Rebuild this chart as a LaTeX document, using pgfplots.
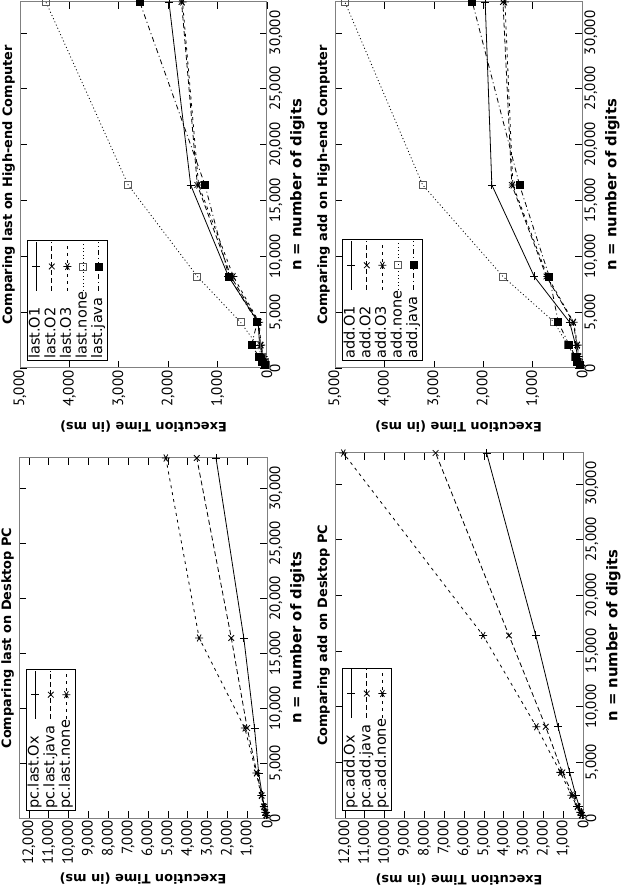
\documentclass[border=0pt]{standalone}
\usepackage{fontspec}
\setmainfont{PT Sans}
\newfontfamily\djf{DejaVu Sans}
\usepackage{pgfplots}
\pgfplotsset{compat=1.18}

% data: n, then one column per build
\pgfplotstableread{
n     Ox    java  none
256   30    35    40
512   70    80    85
1024  130   150   160
2048  240   270   290
4096  420   510   540
8192  630   1000  1120
16384 1170  1800  3420
32768 2570  3540  5100
}\pclast
\pgfplotstableread{
n     Ox    java  none
256   50    60    70
512   100   130   150
1024  190   270   300
2048  367   500   585
4096  670   1040  1140
8192  1260  1880  2350
16384 2380  3730  5035
32768 4860  7430  12080
}\pcadd
\pgfplotstableread{
n     O1    O2    O3    none  java
256   20    20    20    25    50
512   40    40    40    50    97
1024  80    70    70    100   165
2048  150   130   120   200   313
4096  180   170   160   535   198
8192  780   730   680   1410  771
16384 1545  1410  1385  2810  1256
32768 1985  1730  1710  4475  2576
}\hilast
\pgfplotstableread{
n     O1    O2    O3    none  java
256   30    20    20    40    50
512   50    40    40    80    100
1024  90    70    70    150   130
2048  130   100   90    290   260
4096  250   180   170   560   480
8192  967   720   700   1600  663
16384 1825  1420  1400  3225  1265
32768 1960  1600  1560  4800  2220
}\hiadd

\newcommand\txt{\fontsize{15}{15}\selectfont}
\newcommand\hdr{\djf\fontsize{12.9}{13}\selectfont\bfseries}

\pgfplotsset{
  every axis title shift=0pt,
  gp/.style={
    scale only axis, clip=false,
    anchor=north west,
    xmin=0, xmax=32768,
    ymin=0,
    xtick={0,5000,...,30000},
    scaled ticks=false,
    /pgf/number format/1000 sep={,},
    /pgf/number format/assume math mode=true,
    tick align=inside,
    major tick length=7pt,
    tick style={black, line width=0.6pt},
    axis line style={gray, line width=1pt},
    font=\txt,
    tick label style={font=\txt},
    xticklabel style={yshift=1pt},
    yticklabel style={xshift=1pt},
    title style={font=\hdr, at={(0.5,1)}, anchor=south, inner sep=0pt, yshift=5pt},
    xlabel={n = number of digits},
    xlabel style={font=\djf\fontsize{14.8}{15}\selectfont\bfseries,
      at={(axis description cs:0.5,0)}, anchor=north, inner sep=0pt, yshift=-23pt},
    ylabel={Execution Time (in ms)},
    ylabel style={font=\hdr, anchor=south, inner sep=0pt},
    legend cell align=left,
    legend plot pos=right,
    legend style={at={(0,1)}, anchor=north west, xshift=7pt, yshift=-7pt,
      draw=black, line width=0.8pt, inner sep=1pt, row sep=0pt,
      font=\djf\fontsize{14.5}{15}\selectfont,
      nodes={text height=10.5pt, text depth=3.5pt, inner sep=0.8pt}},
    legend image code/.code={\draw[mark repeat=2,mark phase=2,#1]
      plot coordinates {(0cm,0cm) (0.85cm,0cm) (1.7cm,0cm)};},
  },
  desk/.style={gp, ymax=12500, ytick={0,1000,...,12000},
    ylabel style={at={(axis description cs:-0.153,0.5)}}},
  high/.style={gp, ymax=5000, ytick={0,1000,...,5000},
    ylabel style={at={(axis description cs:-0.145,0.5)}}},
  s1/.style={black, line width=0.8pt, mark=+, mark size=4pt, mark options={solid}},
  s2/.style={black, line width=0.8pt, dash pattern=on 5pt off 3pt, mark=x, mark size=4pt, mark options={solid}},
  s3/.style={black, line width=0.8pt, dash pattern=on 3pt off 4pt, mark=asterisk, mark size=4pt, mark options={solid}},
  s4/.style={black, line width=0.8pt, dash pattern=on 1pt off 2.5pt, mark=square, mark size=3.5pt, mark options={solid, gray!70!black}},
  s5/.style={black, line width=0.8pt, dash pattern=on 5pt off 3pt on 1pt off 3pt, mark=square*, mark size=3.5pt, mark options={solid}},
}

\begin{document}
\begin{tikzpicture}
\begin{scope}[transform canvas={rotate=90}]

\begin{axis}[desk, at={(70pt,-19pt)}, width=360pt, height=248pt,
  title={Comparing last on Desktop PC}]
  \addplot[s1] table[x=n, y=Ox] {\pclast};
  \addlegendentry{pc.last.Ox}
  \addplot[s2] table[x=n, y=java] {\pclast};
  \addlegendentry{pc.last.java}
  \addplot[s3] table[x=n, y=none] {\pclast};
  \addlegendentry{pc.last.none}
\end{axis}

\begin{axis}[high, at={(520pt,-20pt)}, width=366pt, height=247pt,
  title={Comparing last on High-end Computer}]
  \addplot[s1] table[x=n, y=O1] {\hilast};
  \addlegendentry{last.O1}
  \addplot[s2] table[x=n, y=O2] {\hilast};
  \addlegendentry{last.O2}
  \addplot[s3] table[x=n, y=O3] {\hilast};
  \addlegendentry{last.O3}
  \addplot[s4] table[x=n, y=none] {\hilast};
  \addlegendentry{last.none}
  \addplot[s5] table[x=n, y=java] {\hilast};
  \addlegendentry{last.java}
\end{axis}

\begin{axis}[desk, at={(70pt,-335pt)}, width=365pt, height=248pt,
  title={Comparing add on Desktop PC}]
  \addplot[s1] table[x=n, y=Ox] {\pcadd};
  \addlegendentry{pc.add.Ox}
  \addplot[s2] table[x=n, y=java] {\pcadd};
  \addlegendentry{pc.add.java}
  \addplot[s3] table[x=n, y=none] {\pcadd};
  \addlegendentry{pc.add.none}
\end{axis}

\begin{axis}[high, at={(520pt,-335pt)}, width=366pt, height=247pt,
  title={Comparing add on High-end Computer}]
  \addplot[s1] table[x=n, y=O1] {\hiadd};
  \addlegendentry{add.O1}
  \addplot[s2] table[x=n, y=O2] {\hiadd};
  \addlegendentry{add.O2}
  \addplot[s3] table[x=n, y=O3] {\hiadd};
  \addlegendentry{add.O3}
  \addplot[s4] table[x=n, y=none] {\hiadd};
  \addlegendentry{add.none}
  \addplot[s5] table[x=n, y=java] {\hiadd};
  \addlegendentry{add.java}
\end{axis}

\end{scope}
\pgfresetboundingbox
\useasboundingbox (0,0) rectangle (623pt,888pt);
\end{tikzpicture}
\end{document}
